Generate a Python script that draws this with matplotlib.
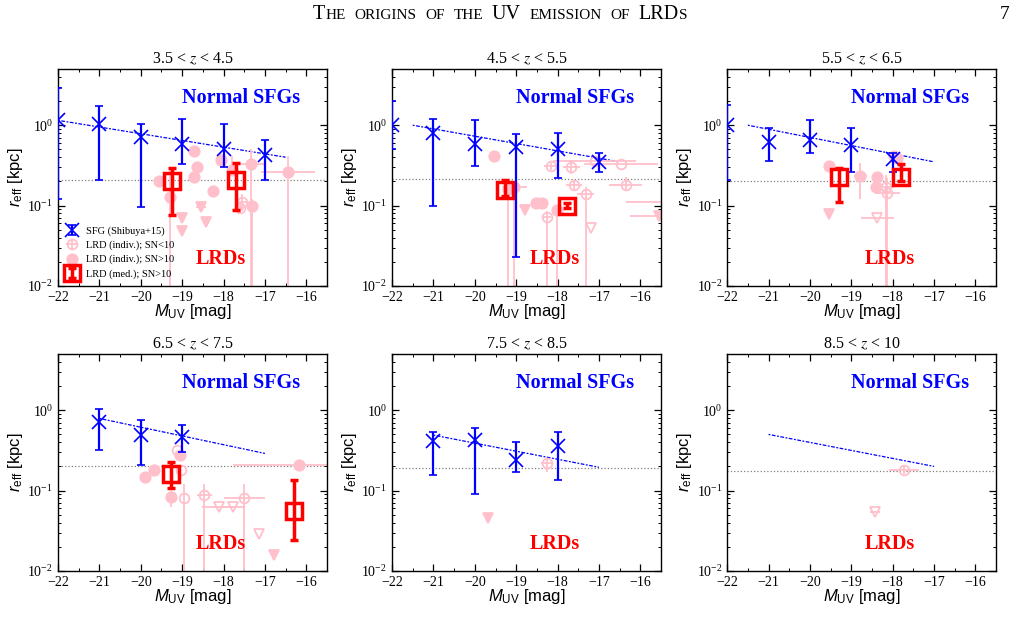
"""Sizes of LRDs vs. normal star-forming galaxies in six redshift bins."""

import matplotlib.pyplot as plt
from matplotlib.ticker import MultipleLocator

plt.rcParams.update({
    "font.family": "serif",
    "font.serif": ["Liberation Serif", "DejaVu Serif"],
    "mathtext.fontset": "stix",
    "mathtext.rm": "Liberation Sans",
    "mathtext.it": "Liberation Sans:italic",
    "mathtext.bf": "Liberation Sans:bold",
    "axes.linewidth": 1.0,
})

PINK = "#ffc0cb"
BLUE = "#0000ff"
RED = "#ff0000"

titles = ["3.5 < $z$ < 4.5", "4.5 < $z$ < 5.5", "5.5 < $z$ < 6.5",
          "6.5 < $z$ < 7.5", "7.5 < $z$ < 8.5", "8.5 < $z$ < 10"]

# Shibuya+15 SFG sizes: M_UV, r_eff, lower, upper
p1_sfg_m = [-22, -21, -20, -19, -18, -17]
p1_sfg_r = [1.15, 1.05, 0.72, 0.58, 0.51, 0.43]
p1_sfg_lo = [0.12, 0.21, 0.095, 0.33, 0.30, 0.21]
p1_sfg_hi = [2.9, 1.72, 1.05, 1.2, 1.05, 0.66]

p2_sfg_m = [-22, -21, -20, -19, -18, -17]
p2_sfg_r = [1.0, 0.79, 0.59, 0.53, 0.51, 0.35]
p2_sfg_lo = [0.5, 0.1, 0.31, 0.023, 0.22, 0.26]
p2_sfg_hi = [2.0, 1.18, 1.15, 0.78, 0.8, 0.45]

p3_sfg_m = [-22, -21, -20, -19, -18]
p3_sfg_r = [1.0, 0.62, 0.66, 0.57, 0.38]
p3_sfg_lo = [0.21, 0.36, 0.45, 0.26, 0.26]
p3_sfg_hi = [1.77, 0.92, 1.15, 0.93, 0.45]

p4_sfg_m = [-21, -20, -19]
p4_sfg_r = [0.72, 0.49, 0.46]
p4_sfg_lo = [0.32, 0.21, 0.30]
p4_sfg_hi = [1.04, 0.75, 0.66]

p5_sfg_m = [-21, -20, -19, -18]
p5_sfg_r = [0.41, 0.42, 0.24, 0.355]
p5_sfg_lo = [0.155, 0.092, 0.17, 0.137]
p5_sfg_hi = [0.54, 0.60, 0.40, 0.54]

# size-luminosity relation (start M, start r, end M, end r)
fit_lines = [(-22, 1.15, -16.5, 0.40), (-21.5, 1.0, -16.5, 0.35),
             (-21.5, 1.0, -17.0, 0.35), (-21.0, 0.79, -17.0, 0.29),
             (-21.0, 0.49, -17.0, 0.195), (-21.0, 0.50, -17.0, 0.20)]

# resolution limit (dotted grey)
psf_limit = [0.21, 0.215, 0.20, 0.205, 0.19, 0.175]

# individual LRDs: (M_UV, r_eff, xerr, r_low, r_high); 0 = no error
p1_filled = [(-19.56, 0.205, 0, 0, 0), (-19.30, 0.128, 0, 0.001, 0.30),
             (-18.72, 0.48, 0, 0, 0), (-18.65, 0.30, 0, 0, 0),
             (-18.71, 0.225, 0, 0, 0), (-18.25, 0.153, 0, 0, 0),
             (-18.06, 0.37, 0, 0.30, 0.44), (-17.80, 0.28, 0, 0.25, 0.42),
             (-17.33, 0.33, 0.3, 0.001, 0.50), (-17.31, 0.098, 0.1, 0.001, 0.12),
             (-16.44, 0.26, 0.66, 0.001, 0.41)]
p1_open = [(-17.55, 0.112, 0.12, 0.085, 0.14), (-17.60, 0.093, 0.1, 0.08, 0.11)]
p1_tri_filled = [(-19.0, 0.071, 0, 0, 0), (-19.0, 0.048, 0, 0, 0),
                 (-18.55, 0.097, 0.12, 0, 0), (-18.42, 0.062, 0, 0, 0)]
p1_tri_open = []
p1_med = [(-19.25, 0.205, 0.077, 0.29), (-17.70, 0.21, 0.089, 0.34)]

p2_filled = [(-19.53, 0.41, 0, 0.35, 0.47), (-19.20, 0.16, 0, 0.001, 0.20),
             (-19.05, 0.17, 0.3, 0.001, 0.20), (-18.53, 0.107, 0, 0, 0),
             (-18.37, 0.108, 0, 0, 0), (-18.02, 0.087, 0, 0.001, 0.10)]
p2_open = [(-18.25, 0.072, 0.1, 0.001, 0.085), (-18.17, 0.31, 0.15, 0.28, 0.34),
           (-17.67, 0.30, 0.2, 0.25, 0.37), (-17.60, 0.18, 0.2, 0.15, 0.20),
           (-17.32, 0.14, 0.2, 0.001, 0.17), (-17.10, 0.355, 1.0, 0, 0),
           (-16.47, 0.33, 0.9, 0, 0), (-16.35, 0.18, 0.4, 0.15, 0.23),
           (-15.20, 0.11, 1.15, 0, 0)]
p2_tri_filled = [(-18.78, 0.089, 0, 0, 0), (-15.56, 0.075, 0.7, 0, 0)]
p2_tri_open = [(-17.20, 0.052, 0, 0, 0)]
p2_med = [(-19.27, 0.156, 0.13, 0.21), (-17.77, 0.10, 0.094, 0.107)]

p3_filled = [(-19.55, 0.31, 0, 0, 0), (-18.78, 0.235, 0.15, 0.12, 0.34),
             (-18.37, 0.225, 0, 0, 0), (-18.41, 0.17, 0, 0, 0),
             (-17.97, 0.41, 0, 0, 0), (-17.90, 0.39, 0, 0, 0)]
p3_open = [(-18.17, 0.17, 0.2, 0.001, 0.24), (-18.13, 0.145, 0.3, 0.001, 0.22)]
p3_tri_filled = [(-19.53, 0.079, 0, 0, 0)]
p3_tri_open = [(-18.37, 0.07, 0.4, 0, 0)]
p3_med = [(-19.30, 0.225, 0.11, 0.29), (-17.80, 0.225, 0.20, 0.33)]

p4_filled = [(-19.90, 0.147, 0, 0, 0), (-19.67, 0.18, 0, 0, 0),
             (-19.27, 0.083, 0, 0.062, 0.10), (-19.06, 0.28, 0, 0, 0),
             (-16.18, 0.206, 1.6, 0, 0)]
p4_open = [(-19.13, 0.32, 0, 0, 0), (-19.02, 0.18, 0, 0, 0),
           (-18.95, 0.08, 0, 0.001, 0.12), (-18.47, 0.087, 0.18, 0.001, 0.12),
           (-17.50, 0.08, 0.5, 0.001, 0.12)]
p4_tri_filled = [(-16.79, 0.016, 0, 0, 0)]
p4_tri_open = [(-18.11, 0.063, 0.4, 0, 0), (-17.77, 0.063, 0.3, 0, 0),
               (-17.14, 0.029, 0, 0, 0)]
p4_med = [(-19.26, 0.16, 0.108, 0.23), (-16.30, 0.056, 0.024, 0.137)]

p5_filled = []
p5_open = [(-18.26, 0.22, 0.15, 0.17, 0.25)]
p5_tri_filled = [(-19.69, 0.045, 0, 0, 0)]
p5_tri_open = []
p5_med = []

p6_filled = []
p6_open = [(-17.73, 0.18, 0.37, 0.16, 0.20)]
p6_tri_filled = []
p6_tri_open = [(-18.43, 0.054, 0.12, 0, 0)]
p6_med = []

panels = [
    dict(sfg=(p1_sfg_m, p1_sfg_r, p1_sfg_lo, p1_sfg_hi), filled=p1_filled, open=p1_open,
         tri_f=p1_tri_filled, tri_o=p1_tri_open, med=p1_med),
    dict(sfg=(p2_sfg_m, p2_sfg_r, p2_sfg_lo, p2_sfg_hi), filled=p2_filled, open=p2_open,
         tri_f=p2_tri_filled, tri_o=p2_tri_open, med=p2_med),
    dict(sfg=(p3_sfg_m, p3_sfg_r, p3_sfg_lo, p3_sfg_hi), filled=p3_filled, open=p3_open,
         tri_f=p3_tri_filled, tri_o=p3_tri_open, med=p3_med),
    dict(sfg=(p4_sfg_m, p4_sfg_r, p4_sfg_lo, p4_sfg_hi), filled=p4_filled, open=p4_open,
         tri_f=p4_tri_filled, tri_o=p4_tri_open, med=p4_med),
    dict(sfg=(p5_sfg_m, p5_sfg_r, p5_sfg_lo, p5_sfg_hi), filled=p5_filled, open=p5_open,
         tri_f=p5_tri_filled, tri_o=p5_tri_open, med=p5_med),
    dict(sfg=None, filled=p6_filled, open=p6_open,
         tri_f=p6_tri_filled, tri_o=p6_tri_open, med=p6_med),
]


def draw_pink(ax, rows, marker, filled, ms, label=None):
    handle = None
    for i, (m, r, xe, lo, hi) in enumerate(rows):
        yerr = [[r - lo], [hi - r]] if hi else None
        h = ax.errorbar(m, r, xerr=xe if xe else None, yerr=yerr, fmt=marker,
                        color=PINK, mfc=PINK if filled else "none", mec=PINK,
                        ms=ms, mew=1.3, elinewidth=1.3, capsize=0, zorder=2,
                        label=label if i == 0 else None)
        if i == 0:
            handle = h
    return handle


def small_caps(fig, xc, y, text, big, small):
    """Draw text in fake small caps centred at figure fraction xc."""
    renderer = fig.canvas.get_renderer()
    pieces = []
    for word_i, word in enumerate(text.split(" ")):
        if word_i > 0:
            pieces.append((" ", big))
        run, run_big = "", None
        for ch in word:
            is_big = ch.isupper()
            if run and is_big != run_big:
                pieces.append((run, big if run_big else small))
                run = ""
            run += ch.upper()
            run_big = is_big
        pieces.append((run, big if run_big else small))
    W = fig.get_figwidth() * fig.dpi
    widths, objs = [], []
    for s, sz in pieces:
        if s == " ":
            widths.append(sz * 0.4 * fig.dpi / 72)
            objs.append(None)
            continue
        t = fig.text(0, y, s, fontsize=sz, va="baseline", ha="left")
        widths.append(t.get_window_extent(renderer).width + sz * 0.05)
        objs.append(t)
    x = xc * W - sum(widths) / 2
    for w, t in zip(widths, objs):
        if t is not None:
            t.set_x(x / W)
        x += w


fig = plt.figure(figsize=(10.17, 6.39), dpi=100)

lefts = [0.057, 0.3855, 0.715]
bottoms = [0.5524, 0.1064]
width, height = 0.2645, 0.3396

for k, p in enumerate(panels):
    ax = fig.add_axes([lefts[k % 3], bottoms[k // 3], width, height])
    ax.set_yscale("log")
    ax.set_xlim(-22, -15.5)
    ax.set_ylim(0.01, 5)

    ax.axhline(psf_limit[k], color="grey", ls=":", lw=0.9, zorder=1)
    x0, y0, x1, y1 = fit_lines[k]
    ax.plot([x0, x1], [y0, y1], color=BLUE, ls=(0, (1.5, 1.2, 3, 1.2)), lw=0.9, zorder=1)

    h_sfg = None
    if p["sfg"] is not None:
        m, r, lo, hi = p["sfg"]
        yerr = [[a - b for a, b in zip(r, lo)], [b - a for a, b in zip(r, hi)]]
        h_sfg = ax.errorbar(m, r, yerr=yerr, fmt="x", color=BLUE, ms=10, mew=1.2,
                            elinewidth=1.6, capsize=3, capthick=1.6, zorder=3,
                            label="SFG (Shibuya+15)")

    h_open = draw_pink(ax, p["open"], "o", False, 7, "LRD (indiv.); SN<10")
    h_fill = draw_pink(ax, p["filled"], "o", True, 7.5, "LRD (indiv.); SN>10")
    draw_pink(ax, p["tri_f"], "v", True, 7.5)
    draw_pink(ax, p["tri_o"], "v", False, 7)

    h_med = None
    for i, (m, r, lo, hi) in enumerate(p["med"]):
        h = ax.errorbar(m, r, yerr=[[r - lo], [hi - r]], fmt="s", mfc="none", mec=RED,
                        ecolor=RED, ms=11, mew=2.5, elinewidth=2.5, capsize=3,
                        capthick=2.5, zorder=4, label="LRD (med.); SN>10")
        if i == 0:
            h_med = h

    ax.text(0.68, 0.865, "Normal SFGs", transform=ax.transAxes, ha="center",
            va="center", color=BLUE, fontsize=14.5, fontweight="bold")
    ax.text(0.605, 0.125, "LRDs", transform=ax.transAxes, ha="center",
            va="center", color=RED, fontsize=14.5, fontweight="bold")

    ax.set_title(titles[k], fontsize=11.5, pad=4)
    ax.set_xlabel(r"$M_{\rm UV}$ [mag]", fontsize=12, family="Liberation Sans",
                  math_fontfamily="custom", labelpad=-1)
    ax.set_ylabel(r"$r_{\rm eff}$ [kpc]", fontsize=12, family="Liberation Sans",
                  math_fontfamily="custom", labelpad=2)

    ax.set_xticks(range(-22, -15))
    ax.xaxis.set_minor_locator(MultipleLocator(0.5))
    ax.tick_params(which="both", direction="in", top=True, right=True, labelsize=10)
    ax.tick_params(which="major", length=5, width=0.9)
    ax.tick_params(which="minor", length=2.5, width=0.7)

    if k == 0:
        ax.legend(handles=[h_sfg, h_open, h_fill, h_med], loc="lower left",
                  fontsize=7.5, frameon=False, handlelength=1.2, handletextpad=0.8,
                  labelspacing=0.45, borderaxespad=0.3)

small_caps(fig, 0.492, 0.97, "The origins of the UV emission of LRDs", 14.5, 11)
fig.text(0.993, 0.97, "7", fontsize=14, ha="right", va="baseline")

fig.savefig("out.png", dpi=100)
